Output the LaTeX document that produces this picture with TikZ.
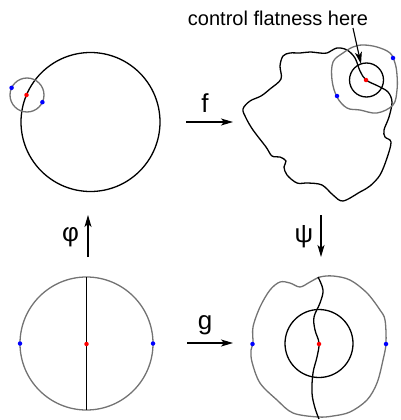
\documentclass[tikz,border=0pt]{standalone}
\usepackage{fontspec}
\setmainfont{Liberation Sans}
\usetikzlibrary{arrows.meta,calc}
\begin{document}
\begin{tikzpicture}[x=1pt,y=-1pt,
  blk/.style={line width=1.3pt, draw=black},
  gry/.style={line width=1.3pt, draw=black!55},
  ring/.style={circle, inner sep=0pt, outer sep=0pt},
  reddot/.style={circle, fill=red, inner sep=0pt, minimum size=4.5pt},
  bluedot/.style={circle, fill=blue, inner sep=0pt, minimum size=4.5pt},
  maparrow/.style={-{Stealth[length=12pt,width=7pt,inset=3pt]}, line width=1.1pt},
  lbl/.style={font=\fontsize{20}{24}\selectfont, inner sep=0pt},
  maplbl/.style={font=\fontsize{26}{30}\selectfont, inner sep=0pt}]
\useasboundingbox (0,0) rectangle (400,420);

% ---------- top left ----------
\node[ring, blk, minimum size=139pt] (D1) at (90.5,122) {};
\node[ring, gry, minimum size=34pt] (S1) at (27,95) {};
\node[reddot] (r1) at (26.5,95) {};
\node[bluedot] (b1a) at ($(27,95)+(205:17)$) {};
\node[bluedot] (b1b) at ($(27,95)+(25:17)$) {};

% ---------- top right ----------
\draw[blk] plot[smooth cycle, tension=0.55] coordinates {
 (283,56) (290,53) (300,53) (310,52) (320,53) (327,53) (337,48) (347,50)
 (355,58) (360,71) (366,80) (378,86) (388,92) (392,102) (389,117) (384,130)
 (385,137) (391,142) (387,158) (380,175) (370,186) (360,192) (343,201)
 (333,195) (322,185) (308,183) (297,183) (287,175) (284,167) (286,161)
 (280,157) (272,156) (266,147) (253,130) (246,118) (243,109) (250,101)
 (261,96) (270,89) (281,79) (280,66)};
\draw[gry] plot[smooth cycle, tension=0.6] coordinates {
 (363,45) (377,47) (390,53) (395,63) (397,75) (397,90) (393,105) (377,113)
 (360,110) (347,108) (337,97) (332,80) (333,62) (343,53) (353,47)};
\node[ring, blk, minimum size=34pt] (S2) at (366.5,80) {};
\node[reddot] (r2) at (366,80) {};
\node[bluedot] (b2a) at (393,58) {};
\node[bluedot] (b2b) at (337,96) {};

\node[lbl] (note) at (278,18) {control flatness here};
\coordinate (noteTail) at (353,28);
\coordinate (noteHead) at (361,64);
\draw[maparrow] (noteTail) -- (noteHead);

% ---------- bottom left ----------
\node[ring, gry, minimum size=133pt] (D3) at (86.5,343.5) {};
\draw[blk] (D3.north) -- (D3.south);
\node[reddot] (r3) at (86.5,344) {};
\node[bluedot] (b3a) at (D3.west) {};
\node[bluedot] (b3b) at (D3.east) {};

% ---------- bottom right ----------
\draw[gry] plot[smooth cycle, tension=0.55] coordinates {
 (320,277) (333,276) (350,280) (367,293) (380,310) (385,320) (386,343)
 (383,360) (377,383) (367,400) (350,412) (333,416) (318,417) (293,413)
 (277,400) (260,383) (252,362) (251,350) (253,343) (253,327) (260,307)
 (270,290) (280,282) (290,283) (300,287) (310,282)};
\draw[blk] plot[smooth, tension=0.6] coordinates {
 (318,277) (323,290) (320,303) (314,317) (315,330) (319,343) (317,357)
 (313,373) (312,393) (315,408) (319,419)};
\node[ring, blk, minimum size=68pt] (S4) at (319,343.5) {};
\node[reddot] (r4) at (319,344) {};
\node[bluedot] (b4a) at (252.5,344) {};
\node[bluedot] (b4b) at (386,344) {};

% ---------- maps ----------
\coordinate (fA) at (186,122); \coordinate (fB) at (233,122);
\draw[maparrow] (fA) -- (fB);
\node[maplbl, anchor=base] (flab) at (205,112) {f};

\coordinate (gA) at (187,343); \coordinate (gB) at (233,343);
\draw[maparrow] (gA) -- (gB);
\node[maplbl, anchor=base] (glab) at (205,329) {g};

\coordinate (phA) at (88,257); \coordinate (phB) at (88,215);
\draw[maparrow] (phA) -- (phB);
\node[maplbl] (phlab) at (70.5,237) {φ};

\coordinate (psA) at (321,215); \coordinate (psB) at (321,257);
\draw[maparrow] (psA) -- (psB);
\node[maplbl] (pslab) at (304,237) {ψ};
\end{tikzpicture}
\end{document}
